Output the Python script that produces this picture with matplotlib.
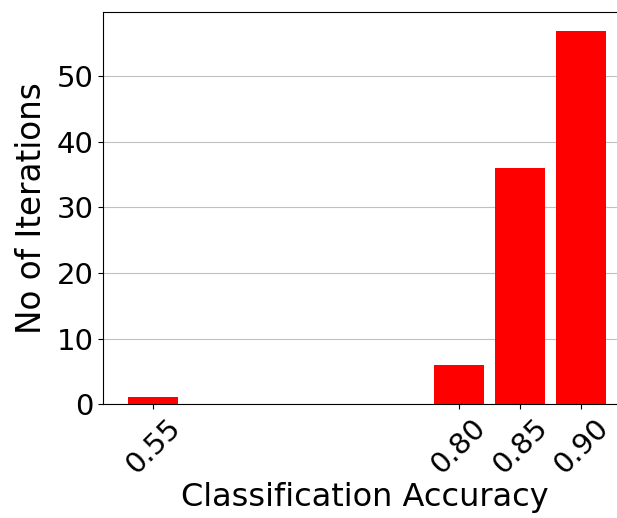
import matplotlib
matplotlib.use("Agg")
import matplotlib.pyplot as plt

accuracy = [0.55, 0.80, 0.85, 0.90]
iterations = [1, 6, 36, 57]
tick_labels = ["0.55", "0.80", "0.85", "0.90"]

fig = plt.figure(figsize=(6.17, 5.18), dpi=100)
# right spine sits just past the figure edge
ax = fig.add_axes([0.167, 0.22, 0.85, 0.757])

ax.bar(accuracy, iterations, width=0.041, color="red", zorder=2)
ax.set_axisbelow(True)
ax.yaxis.grid(True, color="#c0c0c0", linewidth=0.8)

ax.set_xlim(0.509, 0.938)
ax.set_xticks(accuracy)
ax.set_xticklabels(tick_labels, rotation=45)
ax.tick_params(labelsize=21)

ax.set_xlabel("Classification Accuracy", fontsize=23, labelpad=2)
ax.set_ylabel("No of Iterations", fontsize=23.5, labelpad=6)

fig.savefig("out.png", dpi=100)
